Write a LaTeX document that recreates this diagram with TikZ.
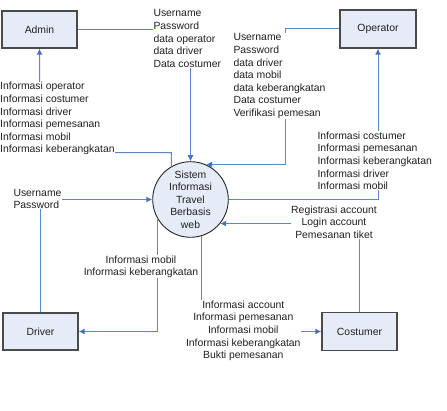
\documentclass[tikz,border=0pt]{standalone}
\usepackage{fontspec}
\setmainfont{Liberation Sans}
\usetikzlibrary{arrows.meta}
\definecolor{flowblue}{HTML}{5A88CC}
\definecolor{tipblue}{HTML}{4472C4}
\definecolor{boxfill}{HTML}{E6ECF7}
\definecolor{boxline}{HTML}{4A4A4A}
\definecolor{txt}{HTML}{202020}
\tikzset{
  entity/.style={draw=boxline, line width=1.4pt, fill=boxfill, minimum width=75pt, minimum height=37pt, inner sep=0pt, text=txt},
  process/.style={draw=black!85, line width=0.9pt, fill=boxfill, circle, minimum size=75.6pt, inner sep=0pt, align=center, text=txt},
  flow/.style={draw=flowblue, line width=1pt, -{Latex[length=6pt,width=6pt,color=tipblue]}},
  lbl/.style={fill=white, inner sep=0.5pt, text=txt},
}
\begin{document}
\begin{tikzpicture}[x=1pt,y=-1pt, font=\fontsize{10.4}{12.6}\selectfont]
\useasboundingbox (0,0) rectangle (447,411);
% entities
\node[entity] (admin) at (39.5,29.5) {Admin};
\node[entity, minimum width=76pt, minimum height=38pt] (operator) at (378,29) {Operator};
\node[entity] (driver) at (40.5,331.5) {Driver};
\node[entity, minimum height=38pt] (costumer) at (359.5,331.5) {Costumer};
\node[process] (sys) at (190.5,199.5) {Sistem\\Informasi\\Travel\\Berbasis\\web};
% helper coordinates
\coordinate (k2) at (40,152.7);
\coordinate (k3) at (285,0);
% connectors
\draw[flow] (admin.east) -| (sys.north);
\draw[flow] (sys.120) |- (k2) -- (admin.south);
\draw[flow] (operator.west) -| (k3 |- sys.66) -- (sys.66);
\draw[flow] (sys.east) -| (operator.south);
\draw[flow] (driver.north) |- (sys.west);
\draw[flow] (sys.209) |- (driver.east);
\draw[flow] (costumer.north) |- (sys.-39);
\draw[flow] (sys.-74) |- (costumer.west);
% labels
\node[lbl, align=left, anchor=west] (l1) at (152.8,38.5) {Username\\Password\\data operator\\data driver\\Data costumer};
\node[lbl, align=left, anchor=west] (l2) at (-0.5,118.7) {Informasi operator\\Informasi costumer\\Informasi driver\\Informasi pemesanan\\Informasi mobil\\Informasi keberangkatan};
\node[lbl, align=left, anchor=west] (l3) at (232.8,76.3) {Username\\Password\\data driver\\data mobil\\data keberangkatan\\Data costumer\\Verifikasi pemesan};
\node[lbl, align=left, anchor=west] (l4) at (316.8,160.7) {Informasi costumer\\Informasi pemesanan\\Informasi keberangkatan\\Informasi driver\\Informasi mobil};
\node[lbl, align=left, anchor=west] (l5) at (12.8,198.8) {Username\\Password};
\node[lbl, align=center] (l6) at (141,266.7) {Informasi mobil\\Informasi keberangkatan};
\node[lbl, align=center] (l7) at (334,222.2) {Registrasi account\\Login account\\Pemesanan tiket};
\node[lbl, align=center] (l8) at (243.3,330.8) {Informasi account\\Informasi pemesanan\\Informasi mobil\\Informasi keberangkatan\\Bukti pemesanan};
\end{tikzpicture}
\end{document}
